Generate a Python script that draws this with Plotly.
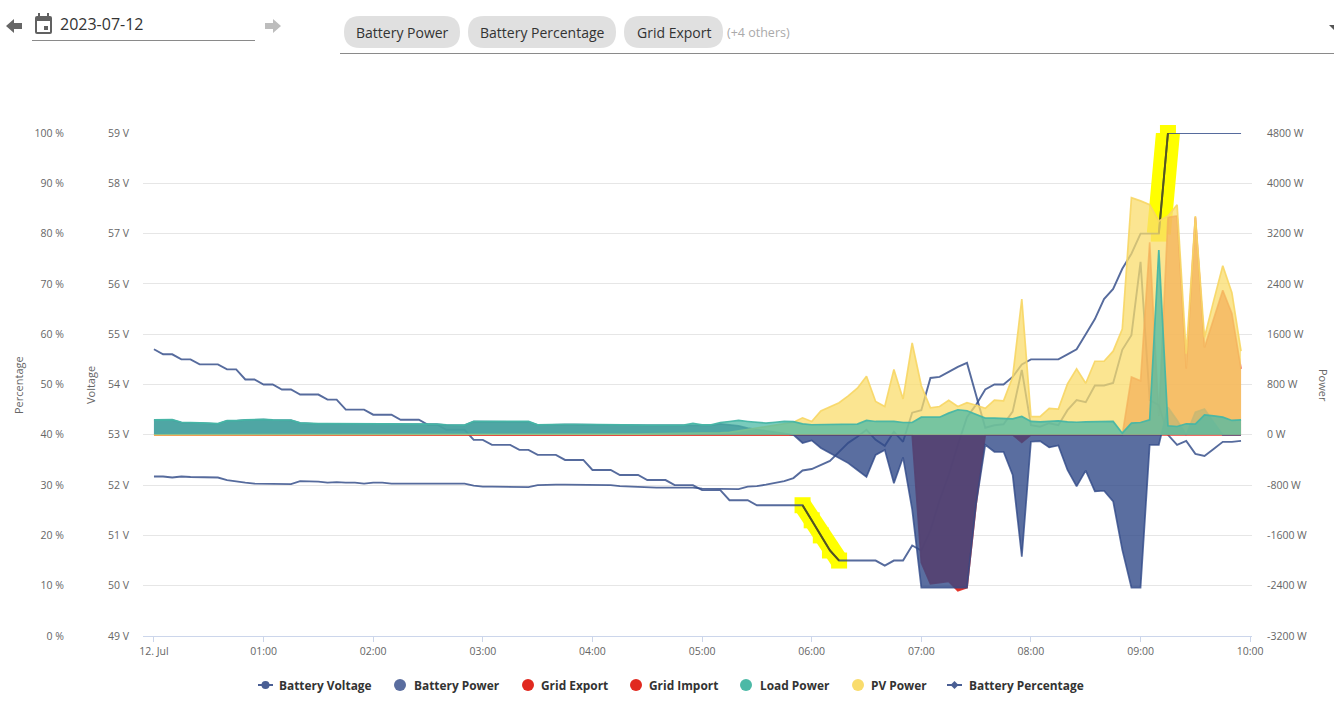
import pandas as pd
import plotly.graph_objects as go

W, H = 1334, 701

time = pd.date_range("2023-07-12 00:00", periods=120, freq="5min")

battery_percentage = [
    57, 56, 56, 55, 55, 54, 54, 54, 53, 53,
    51, 51, 50, 50, 49, 49, 48, 48, 48, 47,
    47, 45, 45, 45, 44, 44, 44, 43, 43, 43,
    42, 42, 41, 41, 41, 39, 39, 38, 38, 38,
    37, 37, 36, 36, 36, 35, 35, 35, 33, 33,
    33, 32, 32, 32, 31, 31, 31, 30, 30, 30,
    29, 29, 29, 27, 27, 27, 26, 26, 26, 26,
    26, 26, 23, 20, 17, 15, 15, 15, 15, 15,
    14, 15, 15, 18, 17, 21, 27, 32, 38, 43.5,
    46, 49, 50, 50, 51.5, 54, 55, 55, 55, 55,
    56, 57, 60, 63, 67, 69, 73, 76, 80, 80,
    80, 100, 100, 100, 100, 100, 100, 100, 100, 100,
]
battery_voltage = [
    52.17, 52.17, 52.15, 52.17, 52.16, 52.16, 52.15, 52.15, 52.10, 52.07,
    52.05, 52.03, 52.03, 52.03, 52.02, 52.02, 52.08, 52.08, 52.07, 52.05,
    52.06, 52.05, 52.05, 52.03, 52.05, 52.05, 52.03, 52.03, 52.03, 52.02,
    52.02, 52.02, 52.02, 52.03, 52.03, 51.99, 51.97, 51.97, 51.97, 51.97,
    51.96, 51.96, 52.00, 52.01, 52.01, 52.01, 52.01, 52.01, 52.01, 52.01,
    52.00, 51.98, 51.97, 51.96, 51.96, 51.95, 51.95, 51.95, 51.95, 51.95,
    51.93, 51.93, 51.92, 51.92, 51.92, 51.97, 51.98, 52.01, 52.05, 52.08,
    52.14, 52.29, 52.32, 52.40, 52.48, 52.66, 52.84, 52.96, 53.10, 52.90,
    52.78, 53.06, 52.86, 53.44, 53.49, 54.13, 54.15, 54.25, 54.35, 54.43,
    53.76, 53.14, 53.19, 53.21, 53.46, 54.29, 53.19, 53.16, 53.23, 53.19,
    53.49, 53.69, 53.65, 53.98, 53.98, 54.03, 54.69, 54.98, 56.44, 53.69,
    53.59, 53.00, 52.80, 52.88, 52.62, 52.58, 52.72, 52.86, 52.86, 52.88,
]
battery_power = [
    232, 230, 234, 195, 195, 185, 180, 172, 220, 220,
    232, 240, 240, 232, 230, 230, 185, 175, 172, 172,
    172, 172, 170, 165, 165, 162, 162, 165, 165, 165,
    165, 165, 155, 150, 150, 208, 208, 208, 208, 206,
    206, 206, 154, 160, 165, 163, 163, 160, 160, 155,
    155, 153, 150, 150, 150, 150, 150, 150, 150, 160,
    155, 150, 175, 159, 143, 106, 80, 64, 42, 26,
    0, -130, -90, -210, -290, -360, -450, -560, -670, -320,
    -240, -770, -360, -1190, -2430, -2430, -2430, -2430, -2430, -2430,
    -1100, -160, -270, -270, -640, -1940, -110, -100, -200, -170,
    -560, -820, -570, -900, -890, -1060, -1830, -2430, -2430, -160,
    -160, 440, 230, 0, 360, 410, 200, 0, 0, 0,
]
grid_export = [0] * 107 + [920, 860, 3060, 300, 3460, 3480, 1050, 3460, 1390, 1840, 2300, 1930, 1050]
grid_import = [0] * 83 + [0, -2030, -2370, -2350, -2330, -2480, -2430, -1100, 0, 0, 0, 0, -120] + [0] * 24
load_power = [
    238, 235, 240, 200, 200, 190, 185, 178, 225, 225,
    238, 245, 245, 238, 235, 235, 190, 180, 178, 178,
    178, 178, 175, 170, 170, 168, 168, 170, 170, 170,
    170, 170, 160, 155, 155, 215, 215, 215, 215, 212,
    212, 212, 159, 165, 170, 168, 168, 165, 165, 160,
    160, 158, 155, 155, 155, 155, 155, 155, 154, 180,
    159, 159, 196, 212, 228, 212, 196, 186, 200, 212,
    210, 175, 160, 160, 160, 170, 170, 170, 228, 212,
    212, 212, 196, 196, 280, 280, 280, 345, 398, 382,
    318, 265, 265, 254, 254, 292, 212, 205, 212, 222,
    207, 200, 205, 205, 205, 212, 26, 186, 196, 238,
    2940, 143, 132, 175, 170, 318, 300, 280, 228, 238,
]
pv_power = [0] * 50 + [
    10, 10, 12, 12, 14, 15, 15, 18, 20, 22,
    25, 28, 30, 40, 60, 80, 105, 130, 155, 180,
    200, 270, 210, 380, 450, 510, 620, 740, 930, 530,
    450, 1040, 570, 1460, 780, 430, 450, 550, 450, 510,
    470, 420, 550, 540, 920, 2160, 290, 290, 420, 410,
    810, 1050, 820, 1170, 1170, 1330, 1680, 3770, 3720, 3660,
    3400, 3480, 3660, 1290, 3480, 1550, 2130, 2690, 2260, 1330,
]

# the two marker-pen strokes on the percentage line
highlight_a_idx = [71, 72, 73, 74, 75]
highlight_a_pct = [26, 23, 20, 17, 15]
highlight_b_idx = [110, 111]
highlight_b_pct = [80, 100]

percent_ticks = list(range(0, 101, 10))
percent_labels = [f"{v} %" for v in percent_ticks]
voltage_ticks = list(range(49, 60))
voltage_labels = [f"{v} V" for v in voltage_ticks]
power_ticks = list(range(-3200, 4801, 800))
power_labels = [f"{v} W" for v in power_ticks]
x_ticks = pd.date_range("2023-07-12 00:00", periods=11, freq="1h")
x_labels = ["12. Jul"] + [f"{h:02d}:00" for h in range(1, 11)]

chips = ["Battery Power", "Battery Percentage", "Grid Export"]

assert all(len(s) == 120 for s in [battery_percentage, battery_voltage, battery_power,
                                   grid_export, grid_import, load_power, pv_power])


def px(x):
    return x / W


def py(y):
    return 1 - y / H


def label(x, y, s, size=11, color="#666666", anchor="left", angle=0, family="Open Sans"):
    return dict(x=px(x), y=py(y), xref="paper", yref="paper", text=s, showarrow=False,
                xanchor=anchor, yanchor="middle", textangle=angle,
                font=dict(family=family, size=size, color=color))


def poly(points, fill):
    d = "M " + " L ".join(f"{px(a)},{py(b)}" for a, b in points) + " Z"
    return dict(type="path", path=d, xref="paper", yref="paper", fillcolor=fill, line_width=0)


def rounded(x0, y0, x1, y1, r, fill):
    d = (f"M {px(x0 + r)},{py(y0)} L {px(x1 - r)},{py(y0)} "
         f"Q {px(x1)},{py(y0)} {px(x1)},{py(y0 + r)} L {px(x1)},{py(y1 - r)} "
         f"Q {px(x1)},{py(y1)} {px(x1 - r)},{py(y1)} L {px(x0 + r)},{py(y1)} "
         f"Q {px(x0)},{py(y1)} {px(x0)},{py(y1 - r)} L {px(x0)},{py(y0 + r)} "
         f"Q {px(x0)},{py(y0)} {px(x0 + r)},{py(y0)} Z")
    return dict(type="path", path=d, xref="paper", yref="paper", fillcolor=fill, line_width=0)


def rule(x0, y0, x1, y1, color, width=1):
    return dict(type="line", x0=px(x0), y0=py(y0), x1=px(x1), y1=py(y1), xref="paper", yref="paper",
                line=dict(color=color, width=width))


def dot(cx, cy, r, fill):
    return dict(type="circle", x0=px(cx - r), y0=py(cy - r), x1=px(cx + r), y1=py(cy + r),
                xref="paper", yref="paper", fillcolor=fill, line_width=0)


fig = go.Figure()

LINE = "rgba(49,74,136,0.82)"

# pen strokes sit under everything
for idx, pct, thick in [(highlight_a_idx, highlight_a_pct, 18), (highlight_b_idx, highlight_b_pct, 24)]:
    fig.add_trace(go.Scatter(x=time[idx], y=pct, yaxis="y", mode="lines+markers", cliponaxis=False,
                             line=dict(color="#ffff00", width=thick),
                             marker=dict(color="#ffff00", symbol="square", size=16)))

fig.add_trace(go.Scatter(x=time, y=battery_percentage, yaxis="y", mode="lines", cliponaxis=False,
                         line=dict(color=LINE, width=1.9)))
for idx, pct in [(highlight_a_idx, highlight_a_pct), (highlight_b_idx, highlight_b_pct)]:
    fig.add_trace(go.Scatter(x=time[idx], y=pct, yaxis="y", mode="lines", cliponaxis=False,
                             line=dict(color="#55551c", width=1.9)))
fig.add_trace(go.Scatter(x=time, y=battery_voltage, yaxis="y2", mode="lines",
                         line=dict(color=LINE, width=1.9)))

areas = [
    (grid_export, "rgba(225,41,31,0.7)", "rgba(225,41,31,0.7)"),
    (grid_import, "rgba(225,41,31,0.95)", "rgba(225,41,31,0.9)"),
    (battery_power, "rgba(49,74,136,0.8)", "rgba(49,74,136,0.8)"),
    (pv_power, "rgba(249,220,108,0.75)", "rgba(247,214,100,0.9)"),
    (load_power, "rgba(76,185,166,0.75)", "rgba(70,182,165,0.95)"),
]
for values, fill, edge in areas:
    fig.add_trace(go.Scatter(x=time, y=values, yaxis="y3", mode="lines", fill="tozeroy",
                             fillcolor=fill, line=dict(color=edge, width=1.7)))

tick_font = dict(family="Open Sans", size=10.5, color="#666666")
y_domain = [py(636), py(133)]

fig.update_layout(
    width=W, height=H, autosize=False, showlegend=False,
    margin=dict(l=0, r=0, t=0, b=0, autoexpand=False),
    paper_bgcolor="white", plot_bgcolor="white",
    xaxis=dict(domain=[px(143), px(1252)], type="date",
               range=["2023-07-11 23:54:00", "2023-07-12 10:01:00"],
               tickvals=x_ticks, ticktext=x_labels, tickfont=tick_font, tickangle=0,
               showgrid=False, zeroline=False, showline=True, linecolor="#ccd6eb", linewidth=1,
               ticks="outside", tickcolor="#ccd6eb", ticklen=5),
    yaxis=dict(domain=y_domain, range=[0, 100], tickvals=percent_ticks, ticktext=percent_labels,
               anchor="free", position=px(64), side="left", tickfont=tick_font,
               showgrid=True, gridcolor="#e6e6e6", gridwidth=1, zeroline=False, showline=False),
    yaxis2=dict(domain=y_domain, range=[49, 59], tickvals=voltage_ticks, ticktext=voltage_labels,
                anchor="free", position=px(129), side="left", overlaying="y", tickfont=tick_font,
                showgrid=False, zeroline=False, showline=False),
    yaxis3=dict(domain=y_domain, range=[-3200, 4800], tickvals=power_ticks, ticktext=power_labels,
                anchor="free", position=px(1266), side="right", overlaying="y", tickfont=tick_font,
                showgrid=False, zeroline=False, showline=False),
)

shapes = []
notes = []

# date picker row
shapes.append(poly([(6, 26), (14, 19), (14, 23), (22, 23), (22, 29), (14, 29), (14, 33)], "#666666"))
shapes.append(poly([(281, 26), (273, 19), (273, 23), (265, 23), (265, 29), (273, 29), (273, 33)], "#bdbdbd"))
shapes.append(rounded(35, 16, 52, 34, 2, "#616161"))
shapes.append(poly([(37, 21), (50, 21), (50, 32), (37, 32)], "white"))
shapes.append(poly([(44, 26), (48, 26), (48, 30), (44, 30)], "#616161"))
shapes.append(poly([(38, 13), (40, 13), (40, 17), (38, 17)], "#616161"))
shapes.append(poly([(47, 13), (49, 13), (49, 17), (47, 17)], "#616161"))
shapes.append(rule(32, 40.5, 255, 40.5, "#8a8a8a"))
notes.append(label(58, 24, "2023-07-12", size=16, color="#333333"))

# selected series chips
chip_spans = [(344, 460), (468, 616), (624, 723)]
for name, (a, b) in zip(chips, chip_spans):
    shapes.append(rounded(a, 16, b, 48, 16, "#e0e0e0"))
    notes.append(label((a + b) / 2, 33, name, size=14, color="#333333", anchor="center"))
notes.append(label(725, 32, "(+4 others)", size=12.5, color="#aaaaaa"))
shapes.append(rule(340, 53.5, 1334, 53.5, "#8a8a8a"))
shapes.append(poly([(1329, 25), (1334, 25), (1334, 30)], "#555555"))

# axis titles
notes.append(label(18, 385, "Percentage", angle=-90, anchor="center"))
notes.append(label(90, 385, "Voltage", angle=-90, anchor="center"))
notes.append(label(1324, 385, "Power", angle=90, anchor="center"))

# legend
legend_y = 685
entries = [
    ("Battery Voltage", 277, None),
    ("Battery Power", 412, ("#5a6d9f", 400)),
    ("Grid Export", 539, ("#e1291f", 528)),
    ("Grid Import", 647, ("#e1291f", 636)),
    ("Load Power", 758, ("#4cb9a6", 746)),
    ("PV Power", 869, ("#f9dc6c", 858)),
    ("Battery Percentage", 967, None),
]
for name, tx, mark in entries:
    notes.append(label(tx, legend_y, f"<b>{name}</b>", size=11.9, color="#333333"))
    if mark:
        shapes.append(dot(mark[1], legend_y, 6, mark[0]))
shapes.append(rule(258, legend_y, 273, legend_y, "#4a5f94", 2))
shapes.append(dot(265.5, legend_y, 4, "#4a5f94"))
shapes.append(rule(947, legend_y, 962, legend_y, "#4a5f94", 2))
shapes.append(poly([(954.5, legend_y - 4), (958.5, legend_y), (954.5, legend_y + 4), (950.5, legend_y)], "#4a5f94"))

fig.update_layout(shapes=shapes, annotations=notes)

fig.write_html("out.html", config=dict(displayModeBar=False),
               post_script="document.body.style.margin='0';document.body.style.overflow='hidden';")
